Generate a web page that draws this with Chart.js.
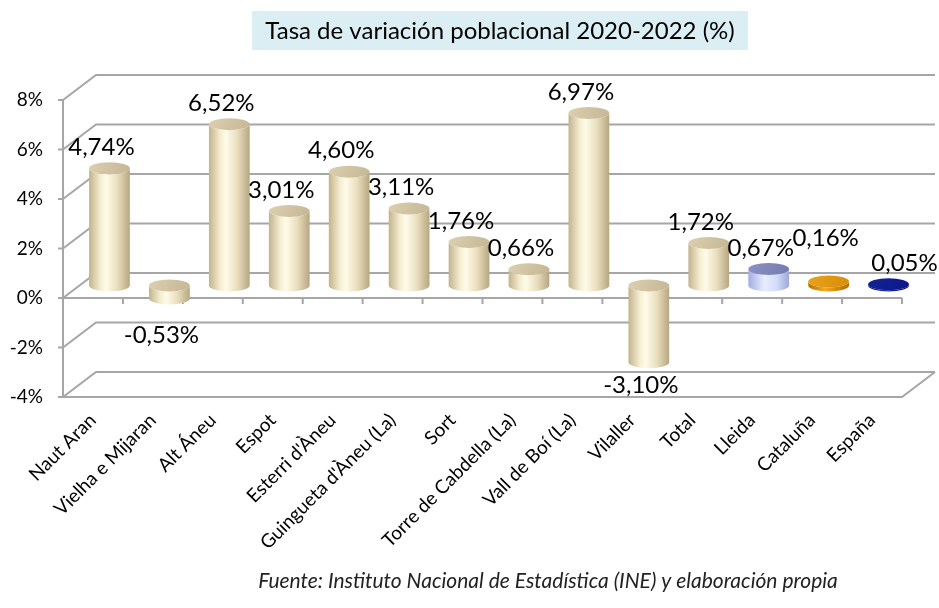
<!DOCTYPE html>
<html><head><meta charset="utf-8">
<script src="https://cdn.jsdelivr.net/npm/chart.js@4.4.0/dist/chart.umd.min.js"></script>
<style>html,body{margin:0;padding:0;background:#fff}#wrap{width:939px;height:608px;position:relative}</style>
</head><body><div id="wrap"><canvas id="c" width="939" height="608"></canvas></div>
<script>
const categories = ['Naut Aran','Vielha e Mijaran','Alt Áneu','Espot',"Esterri d'Àneu","Guingueta d'Àneu (La)",'Sort','Torre de Cabdella (La)','Vall de Boí (La)','Vilaller','Total','Lleida','Cataluña','España'];
const values = [4.74,-0.53,6.52,3.01,4.60,3.11,1.76,0.66,6.97,-3.10,1.72,0.67,0.16,0.05];
const yTicks = [-4,-2,0,2,4,6,8];
const titleText = 'Tasa de variación poblacional 2020-2022 (%)';
const sourceText = 'Fuente: Instituto Nacional de Estadística (INE) y elaboración propia';

const FONT = 'Lato, "Open Sans", sans-serif';
const DX = 33, DY = -25;
const CREAM = {body:[[0,'#c2b38d'],[0.28,'#f6eed2'],[0.42,'#fffbe9'],[0.7,'#e9ddbd'],[1,'#b6a780']], cap:['#dccfb0','#c5b794']};
const STYLES = {
  11:{body:[[0,'#a3ade0'],[0.4,'#e8eeff'],[0.7,'#d2dbfa'],[1,'#9ea8da']], cap:['#8a91c4','#747bb0']},
  12:{body:[[0,'#b87000'],[0.4,'#f2aa22'],[1,'#b06a00']], cap:['#e8a21a','#d88e08']},
  13:{body:[[0,'#08106a'],[0.4,'#1a2aa0'],[1,'#060e60']], cap:['#142296','#0c188a']}
};
const LABEL_NUDGE = {1:[0,14],12:[5,-22],13:[24,0]};

function fmt(v){ return v.toFixed(2).replace('.',',') + '%'; }

function cyl(ctx, cx, yTop, yBot, w, ry, st){
  const rx = w/2;
  const g = ctx.createLinearGradient(cx-rx,0,cx+rx,0);
  st.body.forEach(s=>g.addColorStop(s[0],s[1]));
  ctx.beginPath();
  ctx.moveTo(cx-rx,yTop);
  ctx.lineTo(cx-rx,yBot);
  ctx.ellipse(cx,yBot,rx,ry,0,Math.PI,0,true);
  ctx.lineTo(cx+rx,yTop);
  ctx.ellipse(cx,yTop,rx,ry,0,0,Math.PI,false);
  ctx.closePath();
  ctx.fillStyle = g; ctx.fill();
  const gc = ctx.createLinearGradient(cx-rx,yTop-ry,cx+rx,yTop+ry);
  gc.addColorStop(0,st.cap[0]); gc.addColorStop(1,st.cap[1]);
  ctx.beginPath();
  ctx.ellipse(cx,yTop,rx,ry,0,0,Math.PI*2);
  ctx.fillStyle = gc; ctx.fill();
}

const scene = {
  id:'scene',
  beforeDraw(chart){
    const ctx = chart.ctx;
    ctx.save();
    ctx.fillStyle = '#dbeef4';
    ctx.fillRect(252,11,496,39);
    ctx.fillStyle = '#000';
    ctx.font = '24px ' + FONT;
    ctx.textAlign = 'center'; ctx.textBaseline = 'middle';
    ctx.fillText(titleText, 500, 31);
    ctx.font = 'italic 21px ' + FONT;
    ctx.fillStyle = '#222';
    ctx.fillText(sourceText, 548, 581);
    ctx.restore();
  },
  beforeDatasetsDraw(chart){
    const ctx = chart.ctx, a = chart.chartArea, y = chart.scales.y;
    ctx.save();
    ctx.strokeStyle = '#a6a6a6'; ctx.lineWidth = 2; ctx.lineCap = 'butt';
    const L = a.left, R = a.right;
    yTicks.forEach(v=>{
      const yy = y.getPixelForValue(v);
      ctx.beginPath();
      ctx.moveTo(L,yy); ctx.lineTo(L+DX,yy+DY); ctx.lineTo(R+DX,yy+DY);
      ctx.stroke();
      ctx.beginPath(); ctx.moveTo(L-5,yy); ctx.lineTo(L,yy); ctx.stroke();
    });
    const yb = y.getPixelForValue(yTicks[0]);
    ctx.beginPath(); ctx.moveTo(L,yb); ctx.lineTo(R,yb); ctx.lineTo(R+DX,yb+DY); ctx.stroke();
    ctx.beginPath(); ctx.moveTo(L,a.top); ctx.lineTo(L,a.bottom); ctx.stroke();
    const y0 = y.getPixelForValue(0);
    ctx.beginPath(); ctx.moveTo(L,y0); ctx.lineTo(R,y0); ctx.stroke();
    const n = categories.length, cw = (R-L)/n;
    for(let i=1;i<=n;i++){
      const xx = L + i*cw;
      ctx.beginPath(); ctx.moveTo(xx,y0); ctx.lineTo(xx,y0+6); ctx.stroke();
    }
    ctx.restore();
  },
  afterDatasetsDraw(chart){
    const ctx = chart.ctx, meta = chart.getDatasetMeta(0);
    ctx.save();
    meta.data.forEach((el,i)=>{
      const cx = el.x + DX/2;
      const yv = el.y + DY/2, yb = el.base + DY/2;
      const top = Math.min(yv,yb), bot = Math.max(yv,yb);
      cyl(ctx, cx, top, bot, el.width, 6, STYLES[i] || CREAM);
    });
    ctx.font = '24px ' + FONT;
    ctx.fillStyle = '#000';
    ctx.textAlign = 'center'; ctx.textBaseline = 'middle';
    meta.data.forEach((el,i)=>{
      const v = values[i];
      const cx = el.x + DX/2 - 8;
      const yv = el.y + DY/2;
      const nd = LABEL_NUDGE[i] || [0,0];
      const ly = v >= 0 ? yv - 21 : yv + 23;
      ctx.fillText(fmt(v), cx + nd[0], ly + nd[1]);
    });
    ctx.restore();
  }
};

Chart.defaults.font.family = FONT;
Chart.defaults.color = '#000';

new Chart(document.getElementById('c'), {
  type:'bar',
  data:{ labels:categories, datasets:[{ data:values, backgroundColor:'rgba(0,0,0,0)', borderWidth:0, categoryPercentage:1, barPercentage:0.68 }]},
  options:{
    responsive:false, animation:false, devicePixelRatio:1,
    layout:{ padding:{ top:100, right:37, left:0, bottom:0 } },
    plugins:{ legend:{display:false}, tooltip:{enabled:false}, title:{display:false} },
    scales:{
      x:{
        grid:{display:false, drawTicks:false}, border:{display:false},
        ticks:{ autoSkip:false, minRotation:45, maxRotation:45, padding:12, font:{size:19} },
        afterFit(s){ s.height = 211; }
      },
      y:{
        min:-4, max:8,
        grid:{display:false, drawTicks:false}, border:{display:false},
        ticks:{ stepSize:2, padding:20, font:{size:19}, callback:v=>v+'%' },
        afterFit(s){ s.width = 63; }
      }
    }
  },
  plugins:[scene]
});
</script></body></html>
